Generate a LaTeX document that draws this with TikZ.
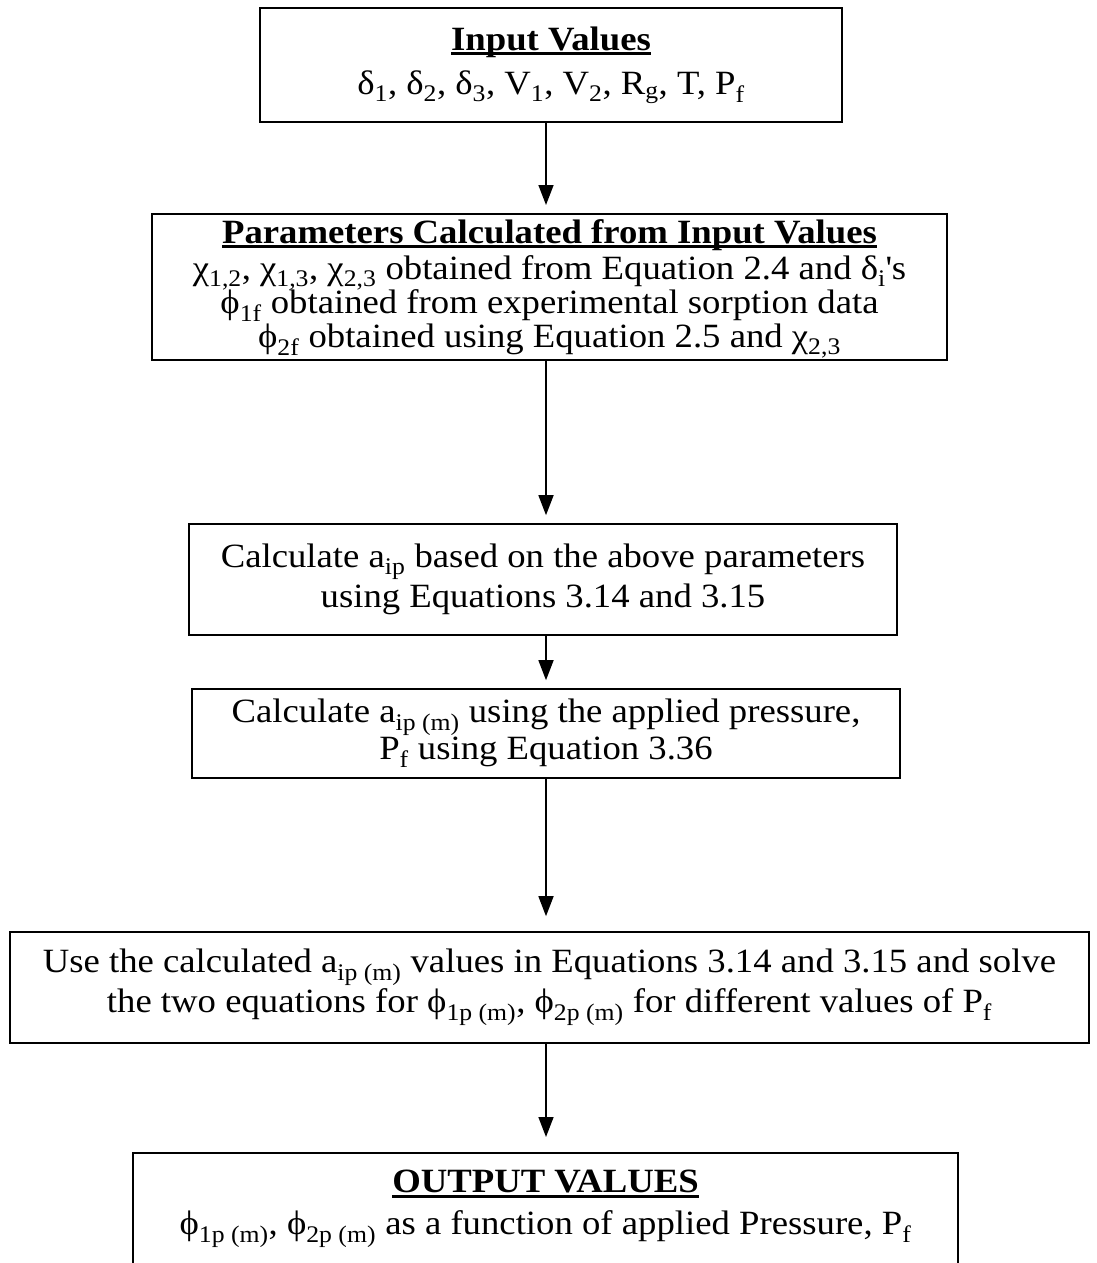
\documentclass[tikz,border=0pt]{standalone}
\usepackage{fontspec}
\setmainfont{Liberation Serif}[FakeStretch=1.08]
\usetikzlibrary{arrows.meta}
\newcommand{\myul}[1]{\setbox0\hbox{#1}\rlap{\rule[-5pt]{\wd0}{3pt}}\box0}
\newcommand{\sbx}[1]{\textsubscript{#1}}
\tikzset{
  box/.style={draw, line width=1.6pt, inner sep=0pt, align=center,
              font=\fontsize{34}{40}\selectfont},
  txt/.style={inner sep=0pt, align=center, font=\fontsize{34}{40}\selectfont},
  arr/.style={line width=1.5pt, -{Triangle[width=15pt,length=20pt]}, shorten >=8pt},
  arrl/.style={arr, shorten >=15pt}
}
\begin{document}
\begin{tikzpicture}[x=1pt,y=-1pt]
\useasboundingbox (0,0) rectangle (1096,1263);
\coordinate (ax) at (546,0);
\node[box, minimum width=582, minimum height=114] (b1) at (551,65)
  {\myul{\bfseries Input Values}\\[4pt]
   δ\sbx{1}, δ\sbx{2}, δ\sbx{3}, V\sbx{1}, V\sbx{2}, R\sbx{g}, T, P\sbx{f}};
\node[box, minimum width=795, minimum height=146, anchor=north] (b2) at (549.5,213) {};
\node[txt, anchor=north] (t2) at (549.5,219)
  {\myul{\bfseries Parameters Calculated from Input Values}\\[-4pt]
   χ\sbx{1,2}, χ\sbx{1,3}, χ\sbx{2,3} obtained from Equation 2.4 and δ\sbx{i}\textquotesingle s\\[-6pt]
   ϕ\sbx{1f} obtained from experimental sorption data\\[-6pt]
   ϕ\sbx{2f} obtained using Equation 2.5 and χ\sbx{2,3}};
\node[box, minimum width=708, minimum height=111] (b3) at (543,579.5)
  {Calculate a\sbx{ip} based on the above parameters\\
   using Equations 3.14 and 3.15};
\node[box, minimum width=708, minimum height=89] (b4) at (546,733.5)
  {Calculate a\sbx{ip (m)} using the applied pressure,\\[-3pt]
   P\sbx{f} using Equation 3.36};
\node[box, minimum width=1079, minimum height=111] (b5) at (549.5,987.5)
  {Use the calculated a\sbx{ip (m)} values in Equations 3.14 and 3.15 and solve\\
   the two equations for ϕ\sbx{1p (m)}, ϕ\sbx{2p (m)} for different values of P\sbx{f}};
\node[box, minimum width=825, minimum height=150, anchor=north] (b6) at (545.5,1152) {};
\node[txt, anchor=north] (t6) at (545.5,1170)
  {\myul{\bfseries OUTPUT VALUES}\\[2pt]
   ϕ\sbx{1p (m)}, ϕ\sbx{2p (m)} as a function of applied Pressure, P\sbx{f}};
\draw[arr] (b1.south -| ax) -- (b2.north -| ax);
\draw[arr] (b2.south -| ax) -- (b3.north -| ax);
\draw[arr] (b3.south -| ax) -- (b4.north -| ax);
\draw[arrl] (b4.south -| ax) -- (b5.north -| ax);
\draw[arrl] (b5.south -| ax) -- (b6.north -| ax);
\end{tikzpicture}
\end{document}
